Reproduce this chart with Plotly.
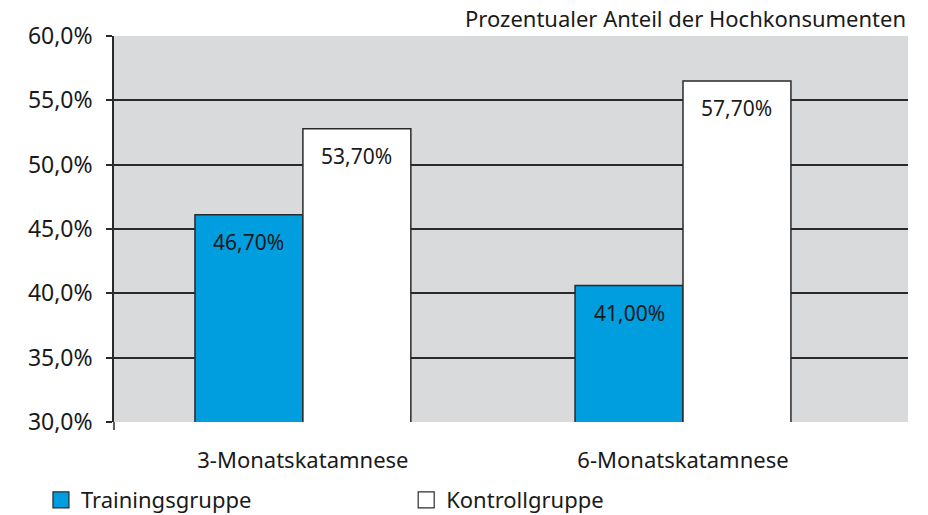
import plotly.graph_objects as go

categories = ["3-Monatskatamnese", "6-Monatskatamnese"]
series_names = ["Trainingsgruppe", "Kontrollgruppe"]
training_heights = [46.1, 40.6]
kontroll_heights = [52.8, 56.5]
training_labels = ["46,70%", "41,00%"]
kontroll_labels = ["53,70%", "57,70%"]
y_ticks = [30, 35, 40, 45, 50, 55, 60]
y_tick_labels = ["30,0%", "35,0%", "40,0%", "45,0%", "50,0%", "55,0%", "60,0%"]
title_text = "Prozentualer Anteil der Hochkonsumenten"

FONT = "Noto Sans"
FS = 22
TXT = "#1a1a1a"
BLUE = "#009ddf"
LINE = "#2a2a2a"
x_idx = list(range(len(categories)))
BW = 0.284

fig = go.Figure()
fig.add_trace(go.Bar(x=x_idx, y=training_heights, base=0, width=BW, offset=-BW,
                     marker=dict(color=BLUE, line=dict(color=LINE, width=1.5)),
                     showlegend=False, hoverinfo="skip"))
fig.add_trace(go.Bar(x=x_idx, y=kontroll_heights, base=0, width=BW, offset=0,
                     marker=dict(color="white", line=dict(color=LINE, width=1.5)),
                     showlegend=False, hoverinfo="skip"))

# legend entries (one legend box per series)
for name, col, lg in zip(series_names, [BLUE, "white"], ["legend", "legend2"]):
    fig.add_trace(go.Scatter(x=[None], y=[None], mode="markers", name=name, legend=lg,
                             marker=dict(symbol="square", size=16, color=col,
                                         line=dict(color=LINE, width=1.2))))

# value labels
for i in x_idx:
    fig.add_annotation(x=i - BW / 2, y=training_heights[i], text=training_labels[i],
                       showarrow=False, yanchor="top", yshift=-11,
                       font=dict(family=FONT, size=FS - 1, color=TXT))
    fig.add_annotation(x=i + BW / 2, y=kontroll_heights[i], text=kontroll_labels[i],
                       showarrow=False, yanchor="top", yshift=-11,
                       font=dict(family=FONT, size=FS - 1, color=TXT))

fig.add_annotation(xref="paper", yref="paper", x=1, y=1, xanchor="right", yanchor="bottom",
                   text=title_text, showarrow=False, yshift=1,
                   font=dict(family=FONT, size=FS, color=TXT))

# small tick at left end of category axis
fig.add_shape(type="line", xref="paper", yref="paper", x0=0, x1=0, y0=0, y1=-0.021,
              line=dict(color=LINE, width=1.5))

legend_common = dict(xanchor="left", yref="container", y=0.029, yanchor="middle",
                     font=dict(family=FONT, size=FS, color=TXT),
                     bgcolor="rgba(0,0,0,0)", borderwidth=0)

fig.update_layout(
    width=928, height=515,
    margin=dict(l=114, r=20, t=36, b=93, autoexpand=False),
    paper_bgcolor="white", plot_bgcolor="#d9dadc",
    barmode="overlay",
    hovermode=False,
    font=dict(family=FONT, size=FS, color=TXT),
    legend=dict(x=-0.092, **legend_common),
    legend2=dict(x=0.368, **legend_common),
)
fig.update_xaxes(range=[-0.497, 1.592], tickvals=x_idx, ticktext=categories,
                 showgrid=False, zeroline=False, showline=False,
                 ticks="outside", ticklen=19, tickcolor="rgba(0,0,0,0)",
                 tickfont=dict(family=FONT, size=FS, color=TXT))
fig.update_yaxes(range=[30, 60], tickvals=y_ticks, ticktext=y_tick_labels,
                 showgrid=True, gridcolor=LINE, gridwidth=1.5, zeroline=False,
                 showline=True, linecolor=LINE, linewidth=1.5,
                 ticks="outside", ticklen=6, tickcolor=LINE, tickwidth=1.5,
                 ticklabelstandoff=9,
                 tickfont=dict(family=FONT, size=FS + 1, color=TXT))

fig.write_html("out.html", config={"displayModeBar": False},
               post_script="document.body.style.margin='0';")
